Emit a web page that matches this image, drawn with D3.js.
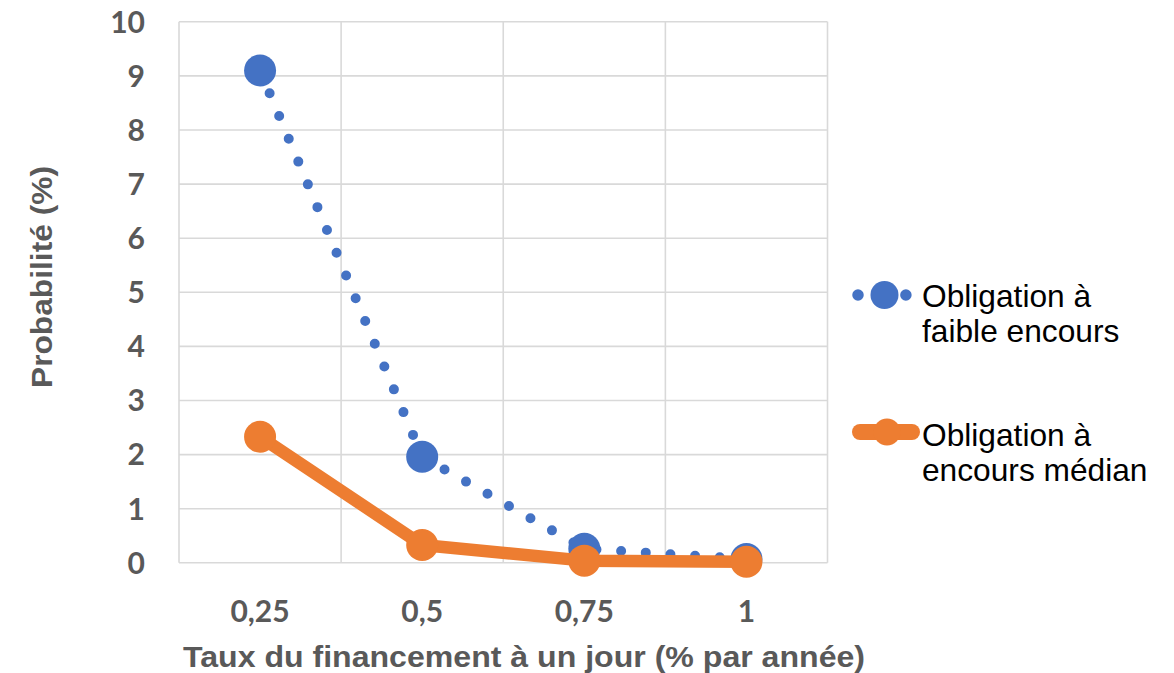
<!DOCTYPE html>
<html>
<head>
<meta charset="utf-8">
<script src="https://cdn.jsdelivr.net/npm/d3@7"></script>
<style>
  html, body { margin: 0; padding: 0; background: #ffffff; }
  svg { display: block; }
</style>
</head>
<body>
<svg id="chart" width="1174" height="673"></svg>
<script>
// Overnight funding rate categories (% per year)
const categories = ["0,25", "0,5", "0,75", "1"];
// Probability (%) for each bond type
const lowOutstanding = [9.1, 1.96, 0.26, 0.07];
const medianOutstanding = [2.33, 0.33, 0.04, 0.02];
const yTicks = [0, 1, 2, 3, 4, 5, 6, 7, 8, 9, 10];
const seriesNames = [["Obligation à", "faible encours"], ["Obligation à", "encours médian"]];
const xTitle = "Taux du financement à un jour (% par année)";
const yTitle = "Probabilité (%)";

const blue = "#4472C4";
const orange = "#ED7D31";
const grey = "#595959";
const gridColor = "#d9d9d9";

const svg = d3.select("#chart");
const plot = { left: 179, right: 827.5, top: 21.8, bottom: 562.8 };

const x = d3.scaleBand().domain(categories).range([plot.left, plot.right]).paddingInner(0).paddingOuter(0);
const y = d3.scaleLinear().domain([0, 10]).range([plot.bottom, plot.top]);
const cx = c => x(c) + x.bandwidth() / 2;

// Horizontal gridlines
svg.append("g")
  .selectAll("line")
  .data(yTicks)
  .join("line")
  .attr("x1", plot.left).attr("x2", plot.right)
  .attr("y1", d => y(d)).attr("y2", d => y(d))
  .attr("stroke", gridColor).attr("stroke-width", 1.6);

// Vertical gridlines at category boundaries
const bounds = categories.map(c => x(c)).concat([plot.right]);
svg.append("g")
  .selectAll("line")
  .data(bounds)
  .join("line")
  .attr("x1", d => d).attr("x2", d => d)
  .attr("y1", plot.top).attr("y2", plot.bottom)
  .attr("stroke", gridColor).attr("stroke-width", 1.6);

// Y tick labels
svg.append("g")
  .selectAll("text")
  .data(yTicks)
  .join("text")
  .attr("x", 145)
  .attr("y", d => y(d))
  .attr("dy", "0.36em")
  .attr("text-anchor", "end")
  .attr("font-family", "Lato, 'Open Sans', sans-serif")
  .attr("font-weight", 700)
  .attr("font-size", 30)
  .attr("fill", grey)
  .text(d => d);

// X tick labels
svg.append("g")
  .selectAll("text")
  .data(categories)
  .join("text")
  .attr("x", d => cx(d))
  .attr("y", 622)
  .attr("text-anchor", "middle")
  .attr("font-family", "Lato, 'Open Sans', sans-serif")
  .attr("font-weight", 700)
  .attr("font-size", 30)
  .attr("fill", grey)
  .text(d => d);

// Axis titles
svg.append("text")
  .attr("x", 524)
  .attr("y", 667)
  .attr("text-anchor", "middle")
  .attr("font-family", "'Liberation Sans', Arial, sans-serif")
  .attr("font-weight", 700)
  .attr("font-size", 29)
  .attr("textLength", 682)
  .attr("lengthAdjust", "spacingAndGlyphs")
  .attr("fill", grey)
  .text(xTitle);

svg.append("text")
  .attr("transform", "translate(52,277) rotate(-90)")
  .attr("text-anchor", "middle")
  .attr("font-family", "'Liberation Sans', Arial, sans-serif")
  .attr("font-weight", 700)
  .attr("font-size", 30)
  .attr("textLength", 222)
  .attr("lengthAdjust", "spacingAndGlyphs")
  .attr("fill", grey)
  .text(yTitle);

const line = d3.line().x((d, i) => cx(categories[i])).y(d => y(d));

// Low-outstanding bond: round-dot line with large markers
svg.append("path")
  .datum(lowOutstanding)
  .attr("d", line)
  .attr("fill", "none")
  .attr("stroke", blue)
  .attr("stroke-width", 10)
  .attr("stroke-linecap", "round")
  .attr("stroke-dasharray", "0 24.7");

svg.append("g")
  .selectAll("circle")
  .data(lowOutstanding)
  .join("circle")
  .attr("cx", (d, i) => cx(categories[i]))
  .attr("cy", d => y(d))
  .attr("r", 16)
  .attr("fill", blue);

// Median-outstanding bond: thick solid line with markers
svg.append("path")
  .datum(medianOutstanding)
  .attr("d", line)
  .attr("fill", "none")
  .attr("stroke", orange)
  .attr("stroke-width", 12.5)
  .attr("stroke-linejoin", "round")
  .attr("stroke-linecap", "round");

svg.append("g")
  .selectAll("circle")
  .data(medianOutstanding)
  .join("circle")
  .attr("cx", (d, i) => cx(categories[i]))
  .attr("cy", d => y(d))
  .attr("r", 16)
  .attr("fill", orange);

// Legend
const legend = svg.append("g");
const legendY = [295, 432];

legend.append("line")
  .attr("x1", 858).attr("x2", 906)
  .attr("y1", legendY[0]).attr("y2", legendY[0])
  .attr("stroke", blue).attr("stroke-width", 11.5)
  .attr("stroke-linecap", "round")
  .attr("stroke-dasharray", "0 47.9");
legend.append("circle")
  .attr("cx", 884.5).attr("cy", legendY[0]).attr("r", 14)
  .attr("fill", blue);

legend.append("line")
  .attr("x1", 860).attr("x2", 912)
  .attr("y1", legendY[1]).attr("y2", legendY[1])
  .attr("stroke", orange).attr("stroke-width", 16)
  .attr("stroke-linecap", "round");
legend.append("circle")
  .attr("cx", 887).attr("cy", legendY[1]).attr("r", 13.5)
  .attr("fill", orange);

const legendBaselines = [[306.5, 341.5], [446, 481]];
seriesNames.forEach((lines, s) => {
  lines.forEach((t, k) => {
    legend.append("text")
      .attr("x", 922)
      .attr("y", legendBaselines[s][k])
      .attr("font-family", "'Liberation Sans', Arial, sans-serif")
      .attr("font-size", 31.7)
      .attr("fill", "#000000")
      .text(t);
  });
});
</script>
</body>
</html>
